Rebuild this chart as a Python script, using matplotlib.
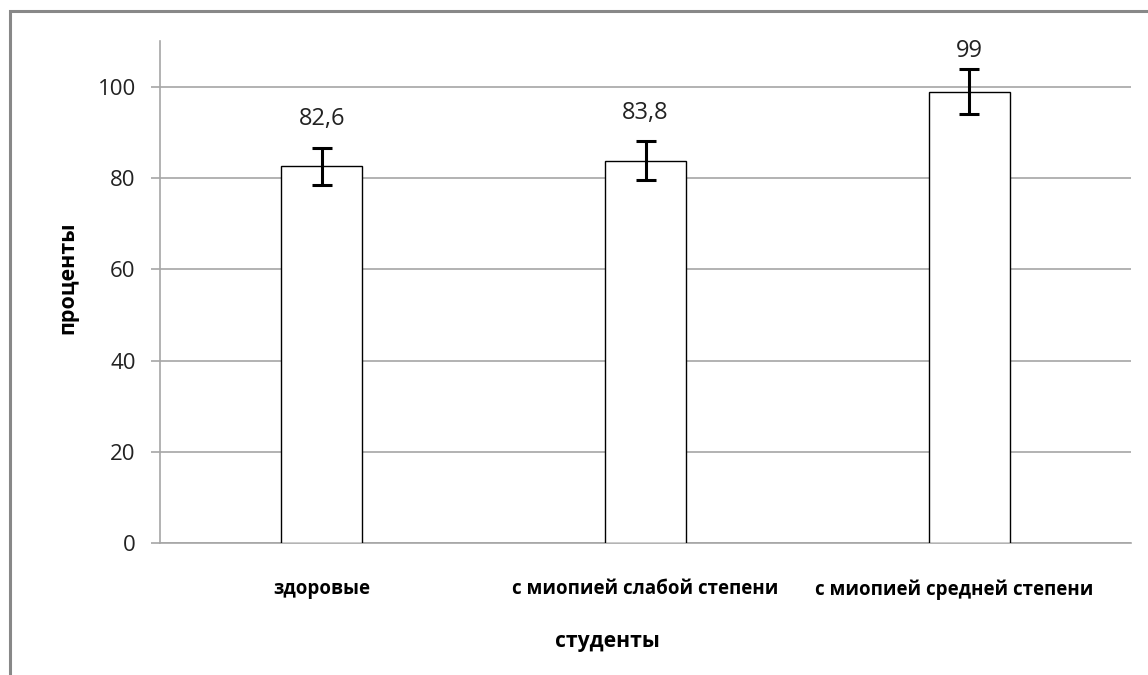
import matplotlib
matplotlib.use('Agg')
import matplotlib.pyplot as plt
import matplotlib.patches as patches
import matplotlib.transforms as mtransforms

# --- Данные ---
categories = ['здоровые', 'с миопией слабой степени', 'с миопией средней степени']
values = [82.6, 83.8, 99.0]
errors = [4.1, 4.3, 4.9]
value_labels = ['82,6', '83,8', '99']

plt.rcParams['font.family'] = ['Open Sans', 'DejaVu Sans']

fig = plt.figure(figsize=(11.48, 6.75), dpi=100)
ax = fig.add_axes([160 / 1148, 1 - 543 / 675, (1131 - 160) / 1148, (543 - 41.4) / 675])

ymax = 110
x = list(range(len(categories)))
ax.bar(x, values, width=0.25, color='white', edgecolor='black', linewidth=1.0, zorder=3)
ax.errorbar(x, values, yerr=errors, fmt='none', ecolor='black', elinewidth=2.2,
            capsize=7, capthick=2.2, zorder=4)

# подписи над планками погрешностей; если не помещаются — прижимаются к верху
for xi, v, e, lab in zip(x, values, errors, value_labels):
    if v + e + 8 < ymax:
        ax.annotate(lab, (xi, v + e), xytext=(0, 12), textcoords='offset points',
                    ha='center', va='bottom', fontsize=17, color='#222222')
    else:
        ax.annotate(lab, (xi, ymax), xytext=(0, 2), textcoords='offset points',
                    ha='center', va='top', fontsize=17, color='#222222')

ax.set_xlim(-0.5, len(categories) - 0.5)
ax.set_ylim(0, ymax)
ax.set_yticks([0, 20, 40, 60, 80, 100])
ax.yaxis.grid(True, color='#a6a6a6', linewidth=1.2, zorder=0)
ax.set_axisbelow(True)

ax.set_xticks(x)
ax.set_xticklabels(categories, fontsize=13.5, fontweight='bold')
ax.tick_params(axis='x', length=0, pad=26)
ax.tick_params(axis='y', length=6.5, color='#a6a6a6', width=1.2, labelsize=16, pad=11,
               labelcolor='#222222')

# последняя подпись чуть сдвинута влево, чтобы не выходить за край
last = ax.get_xticklabels()[-1]
last.set_transform(last.get_transform() +
                   mtransforms.ScaledTranslation(-0.15, 0, fig.dpi_scale_trans))

for side in ['top', 'right']:
    ax.spines[side].set_visible(False)
for side in ['left', 'bottom']:
    ax.spines[side].set_color('#a6a6a6')
    ax.spines[side].set_linewidth(1.2)

ax.set_ylabel('проценты', fontsize=15.5, fontweight='bold', va='center')
ax.yaxis.set_label_coords((67.5 - 160) / 971, (543 - 277.5) / 501.6)
ax.set_xlabel('студенты', fontsize=15.2, fontweight='bold', va='center')
ax.xaxis.set_label_coords((607 - 160) / 971, (543 - 641) / 501.6)

# рамка вокруг рисунка (видны только верх и левый край)
border = patches.Rectangle((9.5 / 1148, -0.1), 1.2, 1 - 11 / 675 + 0.1,
                           transform=fig.transFigure, fill=False,
                           edgecolor='#888888', linewidth=2.2)
fig.patches.append(border)

fig.savefig('out.png', dpi=100)
